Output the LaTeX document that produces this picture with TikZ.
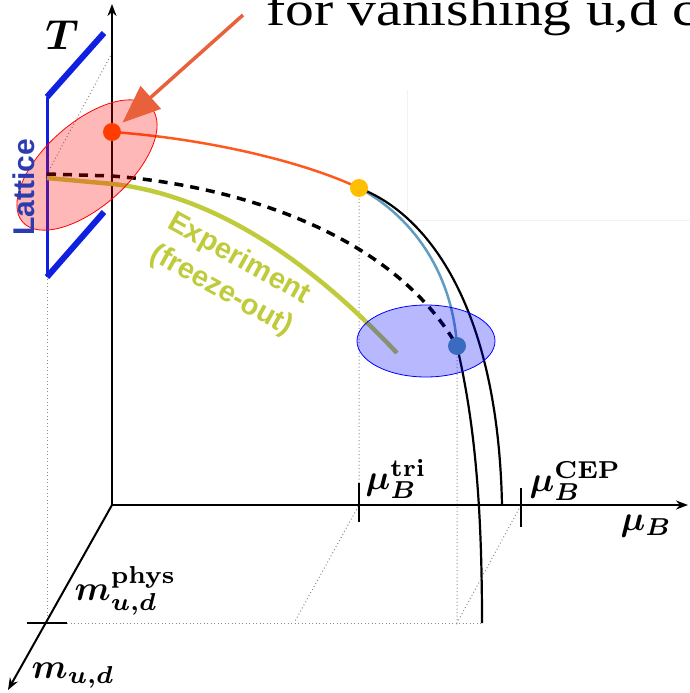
\documentclass[tikz,border=0pt]{standalone}
\usepackage{bm}
\usepackage[no-math]{fontspec}
\newfontfamily\slidefont[FakeStretch=1.2]{Liberation Serif}
\newfontfamily\labelfont{Liberation Sans}
\usepackage{tikz}
\usetikzlibrary{arrows.meta,shapes.geometric}
\definecolor{lattblue}{HTML}{2B3BB0}
\definecolor{bracketblue}{HTML}{1020E0}
\definecolor{expgreen}{HTML}{BFCB3A}
\definecolor{chiralred}{HTML}{FF3D00}
\definecolor{triyellow}{HTML}{FFBE00}
\definecolor{cepblue}{HTML}{3A6BC0}
\definecolor{wingblue}{HTML}{5E9CC0}
\definecolor{linorange}{HTML}{FF5A1E}
\definecolor{arrowred}{HTML}{E8613A}

\begin{document}
\begin{tikzpicture}[x=1pt,y=-1pt,>=Stealth,
  axis/.style={draw=black,line width=2pt},
  guide/.style={draw=black!45,line width=1pt,dash pattern=on 1pt off 2.5pt},
  phase/.style={draw=black,line width=2.2pt},
  region/.style={ellipse,line width=0.8pt,fill opacity=0.28,inner sep=0pt},
  pt/.style={circle,inner sep=0pt,minimum size=18pt},
  mlabel/.style={scale=3.5,transform shape,inner sep=0pt}]
\useasboundingbox (0,0) rectangle (690,693);
\clip (0,0) rectangle (690,693);
\coordinate (O) at (112,505);
\coordinate (Ttip) at (112,4);
\coordinate (mutip) at (688,505);
\coordinate (mtip) at (8,690);
\coordinate (mphys) at (47,623);
\coordinate (mtickw) at (27,623);
\coordinate (mticke) at (67,623);
\coordinate (latt) at (47,174);
\coordinate (lattx) at (47,178);
\coordinate (tproj) at (112,53);
\coordinate (brtop) at (47,97);
\coordinate (brlow) at (47,277);
\coordinate (brtopend) at (104,33);
\coordinate (brlowend) at (104,212);
\coordinate (chiral) at (112,132);
\coordinate (tri) at (359,188);
\coordinate (cep) at (457,346);
\coordinate (tritick) at (359,505);
\coordinate (ceptick) at (521,505);
\coordinate (triphys) at (294,623);
\coordinate (cepphys) at (457,623);
\coordinate (wingend) at (482,623);
\coordinate (wingmu) at (502,505);
\coordinate (callout) at (243,15);
\coordinate (dashin) at (112,176);
\coordinate (expin) at (113,184);
\coordinate (expend) at (397,353);

\draw[black!5,line width=1pt] (407,90) -- (407,220) -- (690,220);

\draw[guide] (mphys) -- (brlow);
\draw[guide] (latt) -- (tproj);
\draw[guide] (tri) -- (tritick) -- (triphys);
\draw[guide] (cep) -- (cepphys) -- (ceptick);
\draw[guide] (mticke) -- (wingend);

\draw[axis,->] (O) -- (Ttip);
\draw[axis,->] (O) -- (mutip);
\draw[axis,->] (O) -- (mtip);
\draw[axis] (mtickw) -- (mticke);
\draw[axis] (359,483) -- (359,522);
\draw[axis] (521,488) -- (521,527);

\draw[bracketblue,line width=6pt] (brtopend) -- (brtop);
\draw[bracketblue,line width=3pt] (brtop) -- (brlow);
\draw[bracketblue,line width=6pt] (brlow) -- (brlowend);

\draw[expgreen,line width=4.5pt] (lattx) -- (expin) .. controls (230,197) and (330,282) .. (expend);
\draw[black,line width=3.5pt,dash pattern=on 9pt off 7pt] (latt) -- (dashin) .. controls (230,185) and (390,230) .. (cep);
\draw[linorange,line width=2.5pt] (chiral) .. controls (200,138) and (300,160) .. (tri);
\draw[wingblue,line width=2.5pt] (tri) .. controls (410,215) and (452,270) .. (cep);
\draw[phase] (tri) .. controls (430,215) and (498,310) .. (wingmu);
\draw[phase] (cep) .. controls (474,420) and (482,500) .. (wingend);

\node[region,draw=red,fill=red,minimum width=172pt,minimum height=84pt,rotate=41.6] (chiralregion) at (87,165) {};
\node[region,draw=blue,fill=blue,minimum width=138pt,minimum height=72pt] (cepregion) at (426,341) {};

\node[pt,fill=chiralred] (chiraldot) at (chiral) {};
\node[pt,fill=triyellow] (tridot) at (tri) {};
\node[pt,fill=cepblue] (cepdot) at (cep) {};

\draw[-{Triangle[length=38pt,width=30pt]},arrowred,line width=3.5pt,shorten >=14pt] (callout) -- (chiral);

\node[anchor=base west,inner sep=0pt,font=\slidefont\fontsize{48}{50}\selectfont] (title) at (266,26) {for vanishing u,d c};
\node[scale=4.2,transform shape,inner sep=0pt] (tlabel) at (62,35) {$\bm{T}$};
\node[rotate=90,text=lattblue,font=\labelfont\bfseries\fontsize{30}{32}\selectfont,inner sep=0pt] (lattlabel) at (24,187) {Lattice};
\node[rotate=-29,align=center,text=expgreen,font=\labelfont\bfseries\fontsize{29}{36}\selectfont,inner sep=0pt] (explabel) at (230,275) {Experiment\\(freeze-out)};
\node[mlabel,anchor=base west] (trilabel) at (365,489) {$\bm{\mu_B^{\mathbf{tri}}}$};
\node[mlabel,anchor=base west] (ceplabel) at (529,491) {$\bm{\mu_B^{\mathbf{CEP}}}$};
\node[mlabel,anchor=base west] (mulabel) at (620,530) {$\bm{\mu_B}$};
\node[mlabel,anchor=base west] (physlabel) at (74,600) {$\bm{m_{u,d}^{\mathbf{phys}}}$};
\node[mlabel,anchor=base west] (mlabel) at (31,678) {$\bm{m_{u,d}}$};
\end{tikzpicture}
\end{document}
